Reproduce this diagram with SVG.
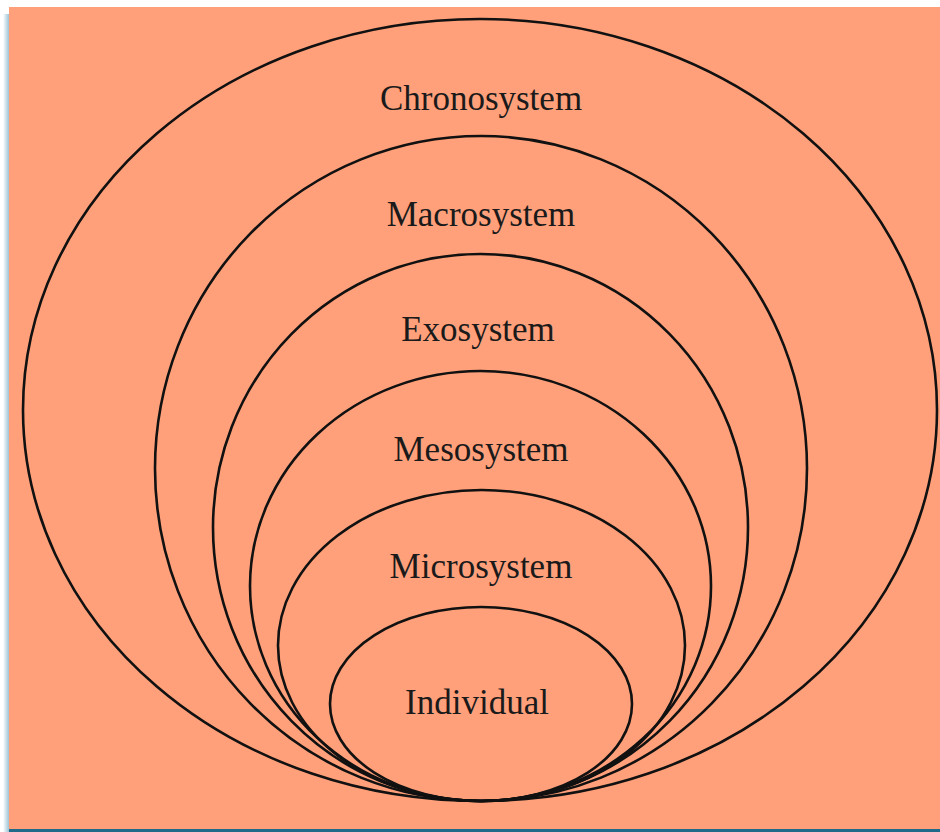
<svg xmlns="http://www.w3.org/2000/svg" width="940" height="832" viewBox="0 0 940 832">
<defs>
<style>
.ring{fill:none;stroke:#111;stroke-width:2.6}
.lbl{font-family:"Liberation Serif","Times New Roman",serif;font-size:35px;fill:#1a1a1a;text-anchor:middle}
</style>
<linearGradient id="sh" x1="0" y1="0" x2="1" y2="0">
<stop offset="0" stop-color="#ffffff"/>
<stop offset="1" stop-color="#9cc3d6"/>
</linearGradient>
</defs>
<rect x="0" y="0" width="940" height="832" fill="#ffffff"/>
<rect x="3" y="14" width="6" height="818" fill="url(#sh)"/>
<rect x="9" y="7" width="931" height="822" fill="#FFA07A"/>
<rect x="9" y="829" width="931" height="3" fill="#1F6A8A"/>
<g id="chronosystem"><ellipse class="ring" cx="480" cy="410" rx="457" ry="391"/><text class="lbl" x="481" y="110">Chronosystem</text></g>
<g id="macrosystem"><ellipse class="ring" cx="481" cy="468.5" rx="326" ry="332.5"/><text class="lbl" x="481" y="226">Macrosystem</text></g>
<g id="exosystem"><ellipse class="ring" cx="480.5" cy="527.5" rx="267.5" ry="273.5"/><text class="lbl" x="478" y="341">Exosystem</text></g>
<g id="mesosystem"><ellipse class="ring" cx="480.5" cy="586" rx="230.5" ry="215"/><text class="lbl" x="481" y="461">Mesosystem</text></g>
<g id="microsystem"><ellipse class="ring" cx="481.5" cy="645.5" rx="203.5" ry="155.5"/><text class="lbl" x="481" y="578">Microsystem</text></g>
<g id="individual"><ellipse class="ring" cx="481" cy="704" rx="151" ry="97"/><text class="lbl" x="477" y="714">Individual</text></g>
<g id="connectors"/>
</svg>
